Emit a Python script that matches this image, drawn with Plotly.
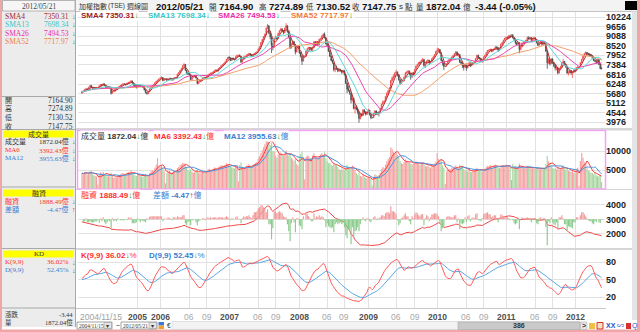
import numpy as np
import pandas as pd
import plotly.graph_objects as go

W, H = 640, 332

# ---------------- categories: weekly bars ----------------
week_start = "2004-11-15"
week_end = "2012-05-21"
dates = pd.date_range(week_start, week_end, freq="7D")

# ---------------- weekly OHLC (TAIEX, points) ----------------
open_ = [
    5700, 5790, 5830, 5910, 5950, 5900, 6060,
    # 2005
    6150, 6040, 5960, 6010, 5990,  6020, 6040, 6150, 6210,  6180, 6250, 6170, 6050,  6010, 6090, 5990, 5710,
    5830, 5840, 5950, 5960, 6040,  6110, 6150, 6200, 6250,  6240, 6210, 6300, 6330,  6360, 6420, 6300, 6180, 6080,
    6040, 6150, 6170, 6100,  6120, 6050, 5900, 5730, 5690,  5810, 5950, 6060, 6150,  6210, 6320, 6400, 6460,
    # 2006
    6560, 6590, 6630, 6450, 6530,  6540, 6480, 6520, 6580,  6560, 6490, 6600, 6630,  6620, 6840, 6920, 7050,
    7180, 7330, 7400, 7060, 6900,  6850, 6790, 6520, 6680,  6710, 6750, 6600, 6280, 6390,  6460, 6480, 6600, 6640,
    6610, 6680, 6760, 6840,  6880, 6900, 6970, 7050, 7080,  7020, 7180, 7220, 7330,  7390, 7450, 7560, 7710,
    # 2007
    7830, 7800, 7650, 7780, 7720,  7700, 7860, 7950, 7960,  7880, 7560, 7700, 7850,  7890, 7950, 8000, 8050, 7980,
    7880, 8000, 8050, 8100,  8150, 8330, 8450, 8700,  8890, 9050, 9200, 9550, 9700,  9280, 9050, 8500, 8440,
    8990, 9000, 8950, 9250,  9420, 9500, 9400, 9300, 9560,  9700, 9350, 9040, 8400,  8590, 8760, 8600, 8150, 8400,
    # 2008
    8500, 8100, 7880, 7620,  7900, 7900, 8200, 8350,  8410, 8380, 8300, 8410, 8750,  8570, 8770, 8600, 8900,
    8920, 9100, 9200, 8990,  8620, 8550, 8200, 7900, 7650,  7500, 7100, 7200, 7150,  7020, 7100, 7050, 6950,
    7040, 6790, 6300, 5950, 5850,  5700, 5300, 5400, 4800,  4880, 4750, 4600, 4200,  4460, 4380, 4700, 4600, 4450,
    # 2009
    4600, 4700, 4430, 4250,  4250, 4500, 4650, 4500,  4560, 4550, 4780, 5050, 5200,  5210, 5500, 5700, 5850,
    6000, 6450, 6600, 6700,  6890, 6950, 6800, 6500, 6300,  6430, 6450, 6650, 6900,  6960, 7000, 6850, 6650, 6900,
    6830, 7100, 7300, 7400,  7510, 7500, 7650, 7700,  7340, 7450, 7600, 7650, 7500,  7580, 7750, 7850, 8000,
    # 2010
    8190, 8250, 8300, 8100,  7640, 7500, 7300, 7310,  7440, 7600, 7700, 7750, 7850,  7920, 8050, 8150, 7950,
    8000, 7550, 7500, 7350, 7250,  7370, 7200, 7350, 7500,  7330, 7450, 7500, 7550,  7760, 7950, 7800, 7750, 7600,
    7620, 7850, 7950, 8100,  8240, 8250, 8300, 8200,  8290, 8350, 8450, 8400, 8250,  8370, 8600, 8700, 8850,
    # 2011
    8980, 9000, 8950, 9100, 9050,  9146, 9000, 8900, 8700,  8600, 8700, 8300, 8450,  8680, 8700, 8750, 8850,
    9000, 8950, 9000, 8850, 8950,  8990, 8900, 8700, 8550,  8650, 8750, 8600, 8700,  8640, 8200, 7500, 7700, 7450,
    7740, 7500, 7350, 7200,  7220, 6900, 7150, 7250, 7500,  7590, 7400, 7300, 6900,  6900, 7050, 6900, 6950,
    # 2012
    7070, 7050, 7200, 7250, 7260,  7520, 7700, 7900, 8050,  8120, 8050, 8000, 7980,  7930, 7800, 7650, 7620, 7500,
    7700, 7400, 7164.90,
]

high = [
    5830, 5880, 5960, 6020, 6000, 6080, 6160,
    # 2005
    6200, 6080, 6040, 6050, 6060,  6040, 6160, 6240, 6250,  6300, 6290, 6190, 6080,  6120, 6110, 6000, 5860,
    5890, 5980, 6010, 6060, 6130,  6190, 6230, 6290, 6280,  6270, 6330, 6380, 6400,  6480, 6450, 6330, 6200, 6110,
    6180, 6220, 6190, 6160,  6150, 6060, 5920, 5760, 5830,  5980, 6090, 6180, 6240,  6350, 6440, 6500, 6560,
    # 2006
    6660, 6700, 6650, 6570, 6540,  6580, 6560, 6610, 6620,  6580, 6620, 6670, 6660,  6860, 6960, 7080, 7200,
    7360, 7480, 7420, 7080, 6950,  6890, 6800, 6720, 6740,  6800, 6770, 6610, 6420, 6480,  6520, 6630, 6680, 6670,
    6710, 6790, 6870, 6920,  6950, 7000, 7080, 7120, 7100,  7200, 7260, 7360, 7420,  7480, 7590, 7730, 7840,
    # 2007
    7900, 7820, 7810, 7820, 7760,  7890, 7990, 7960, 8000,  7900, 7740, 7880, 7920,  7990, 8040, 8090, 8080, 8000,
    8030, 8090, 8140, 8190,  8360, 8490, 8730, 8920,  9090, 9240, 9600, 9807, 9720,  9350, 9060, 8700, 9000,
    9120, 9050, 9290, 9450,  9580, 9560, 9450, 9600, 9859,  9730, 9400, 9060, 8700,  8850, 8800, 8620, 8440, 8560,
    # 2008
    8520, 8150, 7950, 7980,  7910, 8240, 8400, 8460,  8450, 8420, 8480, 8790, 8800,  8800, 8790, 8940, 8990,
    9150, 9260, 9309, 9000,  8700, 8560, 8250, 7920, 7700,  7520, 7280, 7350, 7200,  7180, 7150, 7080, 7100,
    7060, 6820, 6350, 6150, 5900,  5710, 5550, 5420, 5000,  5000, 4780, 4620, 4530,  4520, 4760, 4750, 4620, 4620,
    # 2009
    4790, 4710, 4450, 4260,  4540, 4700, 4680, 4600,  4620, 4820, 5080, 5260, 5280,  5540, 5750, 5900, 6080,
    6500, 6700, 6800, 6930,  7084, 7000, 6820, 6530, 6480,  6520, 6700, 6950, 7000,  7080, 7050, 6870, 6950, 6960,
    7140, 7350, 7450, 7560,  7600, 7700, 7800, 7720,  7500, 7640, 7720, 7680, 7620,  7790, 7900, 8030, 8200,
    # 2010
    8395, 8380, 8320, 8110,  7700, 7520, 7310, 7480,  7640, 7740, 7800, 7880, 7960,  8080, 8190, 8170, 8080,
    8010, 7650, 7550, 7380, 7420,  7400, 7400, 7560, 7510,  7480, 7560, 7600, 7800,  7990, 7980, 7850, 7770, 7680,
    7880, 7990, 8150, 8260,  8300, 8350, 8330, 8320,  8400, 8500, 8480, 8420, 8400,  8640, 8750, 8880, 8990,
    # 2011
    9060, 9070, 9150, 9180, 9200,  9220, 9020, 8920, 8750,  8760, 8720, 8500, 8700,  8780, 8800, 8880, 9050,
    9080, 9050, 9020, 9000, 9060,  9000, 8910, 8720, 8700,  8800, 8780, 8740, 8750,  8660, 8200, 7800, 7720, 7780,
    7760, 7550, 7400, 7300,  7230, 7200, 7330, 7550, 7740,  7600, 7450, 7310, 7050,  7120, 7080, 7000, 7100,
    # 2012
    7120, 7250, 7300, 7260, 7550,  7750, 7950, 8100, 8170,  8150, 8100, 8060, 8020,  7950, 7820, 7700, 7650, 7740,
    7720, 7420, 7274.89,
]

low = [
    5680, 5740, 5800, 5880, 5850, 5880, 6020,
    # 2005
    6020, 5930, 5920, 5950, 5970,  6010, 6020, 6120, 6140,  6160, 6150, 6020, 5980,  5990, 5960, 5620, 5680,
    5780, 5820, 5900, 5940, 6020,  6080, 6120, 6180, 6190,  6160, 6190, 6260, 6300,  6340, 6270, 6150, 6040, 5990,
    6020, 6120, 6060, 6070,  6020, 5870, 5700, 5620, 5640,  5790, 5930, 6030, 6120,  6190, 6290, 6380, 6440,
    # 2006
    6520, 6560, 6400, 6430, 6520,  6450, 6450, 6500, 6530,  6450, 6470, 6580, 6570,  6600, 6820, 6900, 7030,
    7160, 7300, 7020, 6820, 6780,  6740, 6450, 6500, 6640,  6690, 6580, 6230, 6260, 6350,  6410, 6460, 6580, 6580,
    6590, 6660, 6740, 6810,  6850, 6870, 6950, 7010, 6990,  7000, 7150, 7200, 7300,  7360, 7430, 7540, 7690,
    # 2007
    7760, 7600, 7630, 7680, 7640,  7690, 7840, 7940, 7850,  7480, 7520, 7680, 7820,  7870, 7930, 7980, 7940, 7840,
    7860, 7970, 8010, 8060,  8130, 8300, 8430, 8680,  8870, 9020, 9180, 9500, 9200,  8900, 8090, 8250, 8420,
    8900, 8850, 8930, 9220,  9380, 9330, 9200, 9250, 9520,  9300, 8950, 8320, 8350,  8560, 8530, 8000, 8120, 8350,
    # 2008
    8040, 7820, 7384, 7580,  7890, 7870, 8180, 8300,  8250, 8200, 8150, 8400, 8520,  8540, 8560, 8580, 8860,
    8900, 9050, 8950, 8600,  8480, 8150, 7850, 7600, 7450,  7000, 6950, 7100, 6950,  6960, 6980, 6850, 6900,
    6750, 6250, 5700, 5800, 5600,  5100, 5200, 4750, 4500,  4700, 4450, 3955, 4150,  4300, 4350, 4520, 4380, 4410,
    # 2009
    4580, 4380, 4160, 4240,  4240, 4480, 4420, 4400,  4330, 4500, 4760, 5020, 5100,  5190, 5450, 5620, 5800,
    5980, 6380, 6500, 6650,  6850, 6700, 6450, 6200, 6250,  6350, 6400, 6620, 6850,  6900, 6780, 6500, 6620, 6750,
    6800, 7050, 7270, 7340,  7400, 7480, 7600, 7280,  7200, 7420, 7560, 7380, 7450,  7560, 7700, 7820, 7980,
    # 2010
    8150, 8200, 8050, 7600,  7350, 7080, 7290, 7280,  7420, 7580, 7650, 7700, 7820,  7900, 8000, 7900, 7870,
    7500, 7400, 7200, 7050, 7200,  7032, 7180, 7320, 7250,  7300, 7400, 7430, 7530,  7740, 7750, 7700, 7550, 7500,
    7600, 7800, 7930, 8080,  8150, 8200, 8140, 8150,  8250, 8320, 8280, 8150, 8200,  8350, 8580, 8680, 8830,
    # 2011
    8930, 8880, 8920, 9000, 9040,  8950, 8820, 8600, 8550,  8580, 8070, 8250, 8420,  8620, 8650, 8700, 8830,
    8900, 8900, 8800, 8720, 8920,  8820, 8650, 8500, 8520,  8620, 8550, 8580, 8600,  8150, 7150, 7450, 7350, 7440,
    7450, 7250, 7050, 7060,  6820, 6880, 7060, 7220, 7450,  7330, 7200, 6850, 6750,  6880, 6800, 6609, 6900,
    # 2012
    6950, 7000, 7150, 7240, 7250,  7500, 7650, 7880, 8000,  7950, 7930, 7900, 7850,  7750, 7600, 7550, 7450, 7480,
    7380, 7130, 7130.52,
]

close = [
    5780, 5820, 5900, 5950, 5890, 6050, 6140,
    # 2005
    6050, 5970, 6000, 5980, 6020,  6030, 6140, 6210, 6170,  6260, 6180, 6050, 6010,  6080, 6000, 5700, 5820,
    5830, 5950, 5950, 6030, 6110,  6150, 6190, 6250, 6241,  6200, 6300, 6330, 6350,  6430, 6300, 6180, 6080, 6033,
    6150, 6170, 6100, 6120,  6050, 5900, 5730, 5680, 5800,  5950, 6050, 6150, 6200,  6320, 6400, 6460, 6548,
    # 2006
    6580, 6640, 6460, 6530, 6532,  6480, 6520, 6580, 6561,  6490, 6600, 6630, 6613,  6840, 6920, 7050, 7171,
    7330, 7420, 7070, 6900, 6847,  6800, 6520, 6680, 6704,  6750, 6610, 6280, 6380, 6455,  6480, 6600, 6640, 6611,
    6680, 6760, 6840, 6883,  6900, 6970, 7050, 7080, 7021,  7180, 7220, 7330, 7389,  7450, 7560, 7710, 7823,
    # 2007
    7800, 7650, 7780, 7720, 7700,  7860, 7950, 7950, 7902,  7560, 7700, 7850, 7884,  7950, 8000, 8050, 7980, 7875,
    8000, 8050, 8100, 8145,  8330, 8450, 8700, 8883,  9050, 9200, 9550, 9740, 9287,  9050, 8560, 8420, 8982,
    9000, 8950, 9250, 9411,  9500, 9400, 9300, 9550, 9711,  9350, 9050, 8400, 8586,  8760, 8600, 8150, 8400, 8506,
    # 2008
    8100, 7900, 7600, 7900,  7900, 8200, 8350, 8413,  8380, 8300, 8410, 8750, 8572,  8770, 8600, 8900, 8919,
    9100, 9200, 9000, 8619,  8550, 8200, 7900, 7650, 7523,  7100, 7200, 7150, 7024,  7100, 7050, 6950, 7046,
    6800, 6300, 5950, 5850, 5719,  5300, 5400, 4800, 4870,  4750, 4600, 4200, 4460,  4380, 4700, 4600, 4450, 4591,
    # 2009
    4700, 4430, 4250, 4248,  4500, 4650, 4500, 4557,  4550, 4780, 5050, 5200, 5210,  5500, 5700, 5850, 5993,
    6450, 6600, 6700, 6890,  6950, 6800, 6500, 6300, 6432,  6450, 6650, 6900, 6958,  7000, 6850, 6650, 6900, 6826,
    7100, 7300, 7400, 7509,  7500, 7650, 7700, 7340,  7450, 7600, 7650, 7500, 7582,  7750, 7850, 8000, 8188,
    # 2010
    8250, 8300, 8100, 7640,  7500, 7300, 7300, 7436,  7600, 7700, 7750, 7850, 7920,  8050, 8150, 7950, 8004,
    7550, 7500, 7350, 7250, 7374,  7200, 7350, 7500, 7329,  7450, 7500, 7550, 7760,  7950, 7800, 7750, 7600, 7616,
    7850, 7950, 8100, 8238,  8250, 8300, 8200, 8287,  8350, 8450, 8400, 8250, 8372,  8600, 8700, 8850, 8973,
    # 2011
    9000, 8950, 9100, 9050, 9146,  9000, 8900, 8700, 8600,  8700, 8300, 8450, 8683,  8700, 8750, 8850, 9008,
    8950, 9000, 8850, 8950, 8988,  8900, 8700, 8550, 8652,  8750, 8600, 8700, 8644,  8200, 7500, 7700, 7450, 7741,
    7500, 7350, 7200, 7225,  6900, 7150, 7250, 7500, 7588,  7400, 7300, 6900, 6904,  7050, 6900, 6950, 7072,
    # 2012
    7050, 7200, 7250, 7250, 7517,  7700, 7900, 8050, 8121,  8050, 8000, 7980, 7933,  7800, 7650, 7620, 7500, 7701,
    7401, 7151.19, 7147.75,
]

# weekly turnover (億)
volume = [
    4200, 3900, 4500, 4300, 3800, 4100, 4600,
    # 2005
    4800, 3900, 3600, 3400, 3300,  1200, 3900, 4400, 4200,  4500, 4000, 3700, 3300,  3500, 3200, 4300, 3400,
    2900, 3100, 3000, 3300, 3600,  3900, 4100, 4200, 3800,  3600, 4300, 4500, 4400,  4900, 4200, 3800, 3600, 3400,
    3700, 3900, 3500, 3300,  3200, 3400, 3900, 3700, 3500,  4200, 4600, 5000, 4800,  5600, 6400, 8100, 6000,
    # 2006
    5800, 6200, 5600, 4700, 1500,  4200, 4500, 4800, 4400,  4200, 4600, 4900, 4700,  5500, 5800, 6300, 6500,
    6900, 6800, 6500, 5600, 5000,  4800, 5200, 4600, 4300,  4400, 4500, 5200, 4300, 4100,  4200, 4600, 4800, 4500,
    4700, 5100, 5300, 5000,  4900, 5300, 5700, 5500, 5100,  5800, 6000, 6300, 6100,  6200, 6400, 6800, 6600,
    # 2007
    6400, 6000, 5700, 5600, 5400,  5900, 6100, 2000, 6300,  7000, 5800, 5500, 5400,  5800, 6100, 6500, 6200, 5900,
    6300, 6600, 6900, 7200,  8000, 8600, 9500, 10200,  11000, 11800, 13600, 14200, 12500,  11600, 12200, 10000, 9800,
    8600, 8200, 9000, 9400,  9600, 9100, 8700, 9300, 10100,  9400, 8800, 9500, 8200,  7800, 7400, 7900, 6600, 6200,
    # 2008
    8600, 9200, 9900, 8200,  2500, 8400, 8900, 8600,  8200, 7600, 8800, 9400, 8500,  8200, 7900, 8600, 9100,
    9400, 9000, 9700, 8100,  7300, 6800, 6900, 6400, 6100,  6600, 6300, 6500, 5800,  5200, 5000, 5400, 5100,
    4900, 5600, 6400, 5800, 5200,  5500, 6100, 5300, 5000,  4200, 3700, 4300, 3500,  3200, 3600, 3300, 2900, 2800,
    # 2009
    3100, 2900, 2700, 900,  3200, 3900, 3600, 3400,  3600, 4300, 5200, 5800, 5500,  6400, 7300, 7900, 8400,
    11000, 10500, 9800, 9200,  9600, 9000, 8400, 7400, 6800,  6600, 7100, 7800, 7400,  7300, 6900, 6700, 6500, 6600,
    7000, 7300, 6900, 6600,  6300, 6700, 7100, 6900,  6100, 5900, 6200, 5800, 5600,  6100, 6400, 6700, 7200,
    # 2010
    9500, 7900, 7400, 7800,  6200, 5600, 1300, 4600,  5100, 5300, 5200, 5600, 5400,  5900, 6200, 5700, 5500,
    6400, 5800, 6100, 5300, 4800,  5000, 4600, 5200, 4500,  4400, 4700, 4900, 5300,  5600, 5100, 4800, 4900, 4600,
    5200, 5400, 5800, 6100,  6000, 6300, 5900, 5600,  6200, 6400, 6100, 5700, 5500,  6000, 6300, 6200, 5900,
    # 2011
    6400, 6100, 6300, 5900, 2400,  6600, 5800, 6100, 5600,  5800, 6700, 5900, 5500,  5600, 5400, 5700, 6000,
    5800, 5600, 5400, 5500, 5300,  5200, 5400, 5600, 5100,  5300, 5500, 5200, 5400,  6600, 8700, 7300, 6800, 6100,
    5500, 5300, 5600, 5200,  5700, 5100, 5400, 5900, 6200,  5400, 5000, 5300, 4800,  4700, 4500, 4900, 4300,
    # 2012
    4200, 5300, 5600, 800, 7400,  9500, 8200, 7100, 6600,  5400, 4900, 4600, 4300,  4200, 3800, 4300, 3600, 3300,
    3500, 3700, 1872.04,
]

# margin financing balance (融資餘額, 億)
margin = [
    2835, 2810, 2790, 2800, 2770, 2740, 2720,
    # 2005
    2690, 2660, 2630, 2610, 2590,  2585, 2550, 2560, 2540,  2560, 2530, 2480, 2450,  2440, 2420, 2330, 2340,
    2320, 2310, 2290, 2300, 2300,  2290, 2280, 2270, 2260,  2260, 2250, 2270, 2280,  2300, 2260, 2220, 2180, 2150,
    2160, 2150, 2120, 2110,  2090, 2070, 2040, 2050, 2055,  2080, 2110, 2140, 2170,  2200, 2230, 2260, 2290,
    # 2006
    2320, 2350, 2330, 2340, 2342,  2350, 2370, 2380, 2390,  2380, 2400, 2420, 2430,  2460, 2480, 2500, 2520,
    2560, 2600, 2560, 2500, 2470,  2450, 2390, 2380, 2370,  2370, 2340, 2280, 2260, 2250,  2250, 2260, 2270, 2260,
    2270, 2290, 2300, 2320,  2330, 2350, 2370, 2390, 2400,  2420, 2440, 2460, 2480,  2490, 2510, 2540, 2560,
    # 2007
    2570, 2560, 2570, 2580, 2580,  2600, 2630, 2635, 2640,  2600, 2610, 2640, 2660,  2690, 2720, 2760, 2780, 2790,
    2830, 2900, 2970, 3050,  3160, 3280, 3420, 3560,  3680, 3780, 3850, 3950, 3900,  3850, 3650, 3560, 3640,
    3720, 3780, 3850, 3930,  4000, 4060, 4090, 4110, 4130,  4080, 3960, 3740, 3700,  3720, 3690, 3560, 3570, 3580,
    # 2008
    3520, 3450, 3350, 3380,  3380, 3450, 3500, 3530,  3540, 3520, 3500, 3560, 3570,  3600, 3620, 3660, 3680,
    3710, 3730, 3720, 3640,  3600, 3530, 3450, 3360, 3280,  3150, 3100, 3070, 3020,  2980, 2950, 2900, 2880,
    2800, 2640, 2450, 2350, 2250,  2000, 1920, 1730, 1610,  1500, 1420, 1300, 1250,  1240, 1260, 1250, 1230, 1240,
    # 2009
    1250, 1230, 1200, 1200,  1220, 1250, 1240, 1250,  1260, 1280, 1320, 1360, 1390,  1450, 1520, 1590, 1650,
    1780, 1860, 1940, 2010,  2060, 2050, 1990, 1950, 1960,  1980, 2020, 2080, 2110,  2140, 2120, 2070, 2100, 2110,
    2160, 2230, 2290, 2330,  2360, 2410, 2460, 2400,  2410, 2450, 2480, 2460, 2480,  2530, 2580, 2640, 2700,
    # 2010
    2750, 2780, 2740, 2620,  2530, 2460, 2460, 2480,  2510, 2540, 2560, 2580, 2600,  2640, 2680, 2650, 2660,
    2560, 2520, 2470, 2430, 2450,  2420, 2450, 2490, 2470,  2480, 2500, 2510, 2560,  2620, 2610, 2600, 2580, 2590,
    2640, 2700, 2760, 2830,  2880, 2930, 2950, 2980,  3020, 3060, 3060, 3030, 3050,  3100, 3140, 3170, 3200,
    # 2011
    3220, 3240, 3250, 3240, 3240,  3230, 3190, 3140, 3100,  3090, 2990, 2980, 3000,  3010, 3020, 3030, 3050,
    3060, 3070, 3040, 3030, 3040,  3030, 2990, 2940, 2950,  2970, 2960, 2970, 2980,  2900, 2640, 2620, 2580, 2600,
    2570, 2520, 2460, 2430,  2340, 2360, 2380, 2420, 2430,  2380, 2330, 2220, 2150,  2070, 1990, 1900, 1870,
    # 2012
    1840, 1860, 1880, 1880, 1920,  1990, 2060, 2110, 2140,  2150, 2140, 2120, 2100,  2060, 2010, 1990, 1960, 1960,
    1930, 1892.96, 1888.49,
]

# axis ticks / labels
price_ticks = [3976, 4544, 5112, 5680, 6248, 6816, 7384, 7952, 8520, 9088, 9656, 10224]
volume_ticks = [5000, 10000]
margin_ticks = [2000, 3000, 4000]
kd_ticks = [20, 50, 80]
grid_dates = ["2005-09-05", "2006-01-02", "2006-06-05", "2006-09-04", "2007-01-01", "2007-06-04",
              "2007-09-03", "2008-01-07", "2008-06-02", "2008-09-01", "2009-01-05", "2009-06-01",
              "2009-09-07", "2010-01-04", "2010-06-07", "2010-09-06", "2011-01-03", "2011-06-06",
              "2011-09-05", "2012-01-02"]
grid_labels = ["2005", "2006", "06", "09", "2007", "06", "09", "2008", "06", "09", "2009", "06",
               "09", "2010", "06", "09", "2011", "06", "09", "2012"]

n = len(dates)
for nm, arr in [("open", open_), ("high", high), ("low", low), ("close", close),
                ("volume", volume), ("margin", margin)]:
    assert len(arr) == n, (nm, len(arr), n)

# ---------------- indicators (as the charting package computes them) ----------------
C = pd.Series(close, dtype=float)
Hs = pd.Series(high, dtype=float)
Ls = pd.Series(low, dtype=float)
V = pd.Series(volume, dtype=float)
M = pd.Series(margin, dtype=float)
sma = {k: C.rolling(k, min_periods=1).mean() for k in (4, 13, 26, 52)}
vma6 = V.rolling(6, min_periods=1).mean()
vma12 = V.rolling(12, min_periods=1).mean()
hh = Hs.rolling(9, min_periods=1).max()
ll = Ls.rolling(9, min_periods=1).min()
rsv = ((C - ll) / (hh - ll) * 100).fillna(50)
K, D = [], []
k = d = 50.0
for r in rsv:
    k = k * 8 / 9 + r / 9
    d = d * 8 / 9 + k / 9
    K.append(k)
    D.append(d)
mdiff = M.diff().fillna(0)
prev = C.shift(1).fillna(pd.Series(open_, dtype=float))
vol_colors = ["#f6a2a2" if c >= p else "#a9d7a2" for c, p in zip(C, prev)]
diff_colors = ["#f29a9a" if v >= 0 else "#8ccb8c" for v in mdiff]

# ---------------- geometry helpers ----------------
def fx(x):
    return x / W


def fy(y):
    return 1 - y / H


X0, X1 = 78, 605
XR = ["2004-10-25", "2012-06-08"]
PRICE_PX = (12, 128)
VOL_PX = (131, 189)
MAR_PX = (190, 248)
KD_PX = (250, 308)

GRID = "#e2e2e2"
SANS = "Liberation Sans, Noto Sans CJK TC, sans-serif"
SERIF = "Liberation Serif, Noto Sans CJK TC, serif"
CJK = "Noto Sans CJK TC, Liberation Sans, sans-serif"

fig = go.Figure()

# price panel
fig.add_trace(go.Scatter(x=dates, y=sma[4], mode="lines", line=dict(color="#b83030", width=1),
                         xaxis="x", yaxis="y", showlegend=False, hoverinfo="skip"))
fig.add_trace(go.Candlestick(
    x=dates, open=open_, high=high, low=low, close=close,
    increasing=dict(line=dict(color="#f04c4c", width=0.8), fillcolor="#f04c4c"),
    decreasing=dict(line=dict(color="#4a4a4a", width=0.8), fillcolor="#4a4a4a"),
    whiskerwidth=0, xaxis="x", yaxis="y", showlegend=False, hoverinfo="skip"))
for kk, col in [(52, "#f6a06a"), (26, "#ee44b0"), (13, "#5cd8d8")]:
    fig.add_trace(go.Scatter(x=dates, y=sma[kk], mode="lines", line=dict(color=col, width=1),
                             xaxis="x", yaxis="y", showlegend=False, hoverinfo="skip"))

# volume panel
fig.add_trace(go.Bar(x=dates, y=volume, marker=dict(color=vol_colors, line=dict(width=0)),
                     xaxis="x2", yaxis="y2", showlegend=False, hoverinfo="skip"))
fig.add_trace(go.Scatter(x=dates, y=vma6, mode="lines", line=dict(color="#ff3c3c", width=1),
                         xaxis="x2", yaxis="y2", showlegend=False, hoverinfo="skip"))
fig.add_trace(go.Scatter(x=dates, y=vma12, mode="lines", line=dict(color="#4a94df", width=1),
                         xaxis="x2", yaxis="y2", showlegend=False, hoverinfo="skip"))

# margin panel
fig.add_trace(go.Bar(x=dates, y=mdiff, marker=dict(color=diff_colors, line=dict(width=0)),
                     xaxis="x3", yaxis="y4", showlegend=False, hoverinfo="skip"))
fig.add_trace(go.Scatter(x=dates, y=margin, mode="lines", line=dict(color="#f04848", width=1),
                         xaxis="x3", yaxis="y3", showlegend=False, hoverinfo="skip"))

# KD panel
fig.add_trace(go.Scatter(x=dates, y=D, mode="lines", line=dict(color="#5aa6e6", width=1),
                         xaxis="x4", yaxis="y5", showlegend=False, hoverinfo="skip"))
fig.add_trace(go.Scatter(x=dates, y=K, mode="lines", line=dict(color="#ff5c5c", width=1),
                         xaxis="x4", yaxis="y5", showlegend=False, hoverinfo="skip"))


def xax(anchor):
    return dict(domain=[fx(X0), fx(X1)], range=XR, type="date", anchor=anchor,
                showticklabels=False, ticks="", showgrid=True, gridcolor=GRID, gridwidth=1,
                tickmode="array", tickvals=grid_dates, zeroline=False, showline=False,
                fixedrange=True)


def yax(px, rng, ticks, anchor, labels=True):
    return dict(domain=[fy(px[1]), fy(px[0])], range=rng, anchor=anchor, side="right",
                tickmode="array", tickvals=ticks, ticktext=[str(t) for t in ticks],
                showticklabels=labels, ticks="", showgrid=True, gridcolor=GRID, gridwidth=1,
                zeroline=False, showline=False, fixedrange=True,
                tickfont=dict(family=SANS, size=9, color="#1e1e1e", weight="bold"))


xa1 = xax("y")
xa1["rangeslider"] = dict(visible=False)

annotations = []
shapes = []


def T(x, y, text, size=8, color="#222222", anchor="left", family=SANS, bold=False, bg=None):
    a = dict(x=fx(x), y=fy(y), xref="paper", yref="paper", text=text, showarrow=False,
             xanchor=anchor, yanchor="middle", borderpad=0,
             font=dict(size=size, color=color, family=family,
                       weight="bold" if bold else "normal"))
    if bg:
        a["bgcolor"] = bg
    annotations.append(a)


def R(x0, y0, x1, y1, fill=None, line=None, lw=1, layer="below"):
    s = dict(type="rect", xref="paper", yref="paper", x0=fx(x0), x1=fx(x1), y0=fy(y1), y1=fy(y0),
             layer=layer, line=dict(width=lw if line else 0, color=line or "rgba(0,0,0,0)"))
    if fill:
        s["fillcolor"] = fill
    shapes.append(s)


def L(x0, y0, x1, y1, color="#b0b0b0", lw=1, layer="below"):
    shapes.append(dict(type="line", xref="paper", yref="paper", x0=fx(x0), x1=fx(x1),
                       y0=fy(y0), y1=fy(y1), layer=layer, line=dict(color=color, width=lw)))


DN = "<span style='color:#109a10'><b>↓</b></span>"
UP = "<span style='color:#e02020'><b>↑</b></span>"

# ---- frame / backgrounds ----
R(2, 0, 75.5, 327, fill="#ececec")                 # left info panel
R(76, 0, 637, 11.5, fill="#f3f3f3")                # title bar
L(76, 11.5, 637, 11.5, color="#c4c4c4")
L(75.5, 0, 75.5, 327, color="#a8a8a8")
R(76, 128, 637, 130.5, fill="#d6d6d6")             # separators between panels
R(76, 189, 637, 190, fill="#d6d6d6")
R(76, 248, 637, 250, fill="#d6d6d6")
L(76, 308.5, 606, 308.5, color="#c8c8c8")
R(632, 11.5, 637, 320, fill="#e4e4e4")
R(0, 0, 2, 332, fill="#f0a6a6")                    # pink outer frame
R(637, 0, 640, 332, fill="#f0a6a6")
R(0, 329.5, 640, 332, fill="#f0a6a6")
R(625, 1, 637, 10, fill="#000000")                 # black box top-right
R(77.5, 130.5, 605.5, 189, line="#f2a6f2", lw=1.5, layer="above")   # volume panel frame

# ---- title bar ----
TY = 6
T(78, TY, "加權指數", size=7, family=CJK, color="#333333")
T(106.5, TY, "(TSE)", size=6.5, color="#333333")
T(126, TY, "週線圖", size=7, family=CJK, color="#333333")
T(155, TY, "2012/05/21", size=9.5, bold=True, color="#111111")
T(208, TY, "開", size=7.5, family=CJK, color="#333333")
T(218, TY, "7164.90", size=9.5, bold=True, color="#111111")
T(258, TY, "高", size=7.5, family=CJK, color="#333333")
T(268, TY, "7274.89", size=9.5, bold=True, color="#111111")
T(305, TY, "低", size=7.5, family=CJK, color="#333333")
T(315, TY, "7130.52", size=9.5, bold=True, color="#111111")
T(351, TY, "收", size=7.5, family=CJK, color="#333333")
T(361, TY, "7147.75", size=9.5, bold=True, color="#111111")
T(398, TY, "s", size=8, color="#333333")
T(404, TY, "點", size=7.5, family=CJK, color="#333333")
T(415, TY, "量", size=7.5, family=CJK, color="#333333")
T(425, TY, "1872.04", size=9.5, bold=True, color="#111111")
T(462, TY, "億", size=7.5, family=CJK, color="#333333")
T(474, TY, "-3.44 (-0.05%)", size=9.5, bold=True, color="#111111")

# ---- panel legends ----
T(80, 15.5, "<b>SMA4 7350.31</b>" + DN, color="#a01c1c", bg="#ffffff")
T(147, 15.5, "<b>SMA13 7698.34</b>" + DN, color="#3cc6c6", bg="#ffffff")
T(217, 15.5, "<b>SMA26 7494.53</b>" + DN, color="#ea2ea6", bg="#ffffff")
T(290, 15.5, "<b>SMA52 7717.97</b>" + DN, color="#f47a36", bg="#ffffff")
T(80, 135.5, "成交量 <b>1872.04</b>" + DN + "億", color="#333333", bg="#ffffff")
T(153, 135.5, "<b>MA6 3392.43</b>" + DN + "億", color="#ff3030", bg="#ffffff")
T(223, 135.5, "<b>MA12 3955.63</b>" + DN + "億", color="#3a80d0", bg="#ffffff")
T(80, 195, "融資 <b>1888.49</b>" + DN + "億", color="#ff3030", bg="#ffffff")
T(152, 195, "差額 <b>-4.47</b>" + UP + "億", color="#3a80d0", bg="#ffffff")
T(80, 255, "<b>K(9,9) 36.02</b>" + DN + "%", color="#ff3030", bg="#ffffff")
T(148, 255, "<b>D(9,9) 52.45</b>" + DN + "%", color="#3a80d0", bg="#ffffff")

# ---- left info panel ----
R(2.5, 0.5, 75, 11, fill="#f6f6f6", line="#b4b4b4", lw=1)
T(38.5, 6, "2012/05/21", size=7.5, family=SERIF, color="#444444", anchor="center")
for (lab, val, col), yy in zip([("SMA4", "7350.31", "#a02828"), ("SMA13", "7698.34", "#38c4c4"),
                                ("SMA26", "7494.53", "#e62ea6"), ("SMA52", "7717.97", "#f08040")],
                               [16, 24.5, 33, 41.5]):
    T(4, yy, lab, size=7.5, family=SERIF, color=col)
    T(70, yy, val, size=7.5, family=SERIF, color=col, anchor="right")
    T(70.5, yy, DN, size=7.5, color=col)
L(2, 96.5, 75.5, 96.5, color="#a8a8a8")
for (lab, val), yy in zip([("開", "7164.90"), ("高", "7274.89"), ("低", "7130.52"), ("收", "7147.75")],
                          [100.5, 109, 117.5, 126]):
    T(4, yy, lab, size=7, family=SERIF, color="#333333")
    T(74, yy, val, size=7.5, family=SERIF, color="#333333", anchor="right")
L(2, 129.5, 75.5, 129.5, color="#a8a8a8")


def section(y_head, title, rows):
    R(3, y_head - 3.5, 73.5, y_head + 3.5, fill="#ffff00")
    T(38.5, y_head, title, size=7, family=SERIF, color="#333333", anchor="center")
    for lab, val, col, yy, arr in rows:
        T(4, yy, lab, size=7, family=SERIF, color=col)
        T(70, yy, val, size=7, family=SERIF, color=col, anchor="right")
        T(70.5, yy, arr, size=7, color=col)


section(134, "成交量", [("成交量", "1872.04億", "#333333", 141.7, DN),
                       ("MA6", "3392.43億", "#ff3030", 150, DN),
                       ("MA12", "3955.63億", "#3a80d0", 158.3, DN)])
L(2, 187, 75.5, 187, color="#a8a8a8")
section(193, "融資", [("融資", "1888.49億", "#ff3030", 201.7, DN),
                     ("差額", "-4.47億", "#3a80d0", 209.7, UP)])
L(2, 248.5, 75.5, 248.5, color="#a8a8a8")
section(254, "KD", [("K(9,9)", "36.02%", "#ff3030", 262, DN),
                    ("D(9,9)", "52.45%", "#3a80d0", 270, DN)])
L(2, 308, 75.5, 308, color="#a8a8a8")
T(4, 314.5, "漲跌", size=6.5, family=SERIF, color="#333333")
T(74, 314.5, "-3.44", size=6.5, family=SERIF, color="#333333", anchor="right")
T(4, 322.5, "量", size=6.5, family=SERIF, color="#333333")
T(74, 322.5, "1872.04億", size=6.5, family=SERIF, color="#333333", anchor="right")

# ---- time axis labels ----
T(79, 317, "2004/11/15", size=8.5, color="#a0a0a0")
for dstr, lab in zip(grid_dates, grid_labels):
    is_year = len(lab) == 4
    annotations.append(dict(x=dstr, y=fy(317), xref="x4", yref="paper", text=lab, showarrow=False,
                            xanchor="center", yanchor="middle",
                            font=dict(size=8.5, family=SANS, color="#505050" if is_year else "#a8a8a8",
                                      weight="bold" if is_year else "normal")))

# ---- bottom controls ----
R(77, 322, 112, 329, fill="#ffffff", line="#8c8c8c", lw=0.8)
T(78, 325.5, "2004/11/15", size=5.5, family=SERIF, color="#333333")
R(104, 322.5, 111.5, 328.5, fill="#e4e4e4", line="#9a9a9a", lw=0.6)
T(107.7, 325.5, "▾", size=6, color="#333333", anchor="center")
T(114.5, 325.5, "~", size=7, color="#333333")
R(121, 322, 157, 329, fill="#ffffff", line="#8c8c8c", lw=0.8)
T(122, 325.5, "2012/05/21", size=5.5, family=SERIF, color="#333333")
R(149, 322.5, 156.5, 328.5, fill="#e4e4e4", line="#9a9a9a", lw=0.6)
T(152.7, 325.5, "▾", size=6, color="#333333", anchor="center")
R(158.5, 322, 164, 325.5, fill="#3a78d8")
R(158.5, 325.5, 164, 329, fill="#f0a030")
T(165.5, 325.5, "€", size=6.5, color="#333333")
R(172, 321.5, 580, 329.5, fill="#f2f2f2", line="#d0d0d0", lw=0.6)
R(458, 322, 580, 329.5, fill="#c9c9c9", line="#a8a8a8", lw=0.6)
T(519, 325.8, "386", size=7, bold=True, color="#333333", anchor="center")
R(580.5, 322, 587, 329.5, fill="#e8e8e8", line="#b0b0b0", lw=0.6)
T(583.8, 325.6, ">", size=7, bold=True, color="#333333", anchor="center")
R(589, 323, 595, 329, fill="#f2c040")
R(597, 322.5, 603, 329, fill="#f6e0c0", line="#d03030", lw=1)
T(611, 325.6, "XX", size=7, color="#3050c8", anchor="center", bold=True)
T(620.5, 325.6, "∽", size=7, color="#3050c8", anchor="center")
R(626, 323, 631, 329, fill="#d83030")
T(635, 325.6, "Q", size=7, color="#3050c8", anchor="center")

fig.update_layout(
    width=W, height=H, autosize=False,
    margin=dict(l=0, r=0, t=0, b=0, pad=0),
    paper_bgcolor="#ffffff", plot_bgcolor="#ffffff",
    showlegend=False, hovermode=False, bargap=0.12,
    xaxis=xa1, xaxis2=xax("y2"), xaxis3=xax("y3"), xaxis4=xax("y5"),
    yaxis=yax(PRICE_PX, [3638, 10521], price_ticks, "x"),
    yaxis2=yax(VOL_PX, [0, 15263], volume_ticks, "x2"),
    yaxis3=yax(MAR_PX, [1034, 5034], margin_ticks, "x3"),
    yaxis4=dict(overlaying="y3", anchor="x3", range=[-287, 293], visible=False,
                showgrid=False, zeroline=False, fixedrange=True),
    yaxis5=yax(KD_PX, [1.66, 101.1], kd_ticks, "x4"),
    annotations=annotations, shapes=shapes,
)

fig.write_html("out.html", include_plotlyjs=True, full_html=True,
               config={"displayModeBar": False, "staticPlot": True},
               post_script="document.body.style.margin='0';document.body.style.overflow='hidden';")
